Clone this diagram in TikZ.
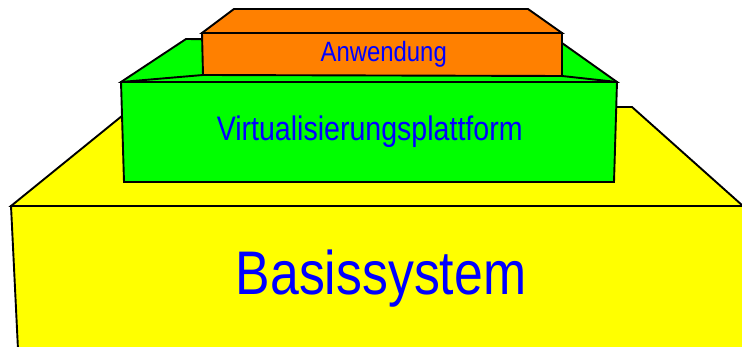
\documentclass[tikz,border=0pt]{standalone}
\usepackage{fontspec}
\setmainfont{Liberation Sans}
\usepackage{graphicx}
\definecolor{baseyellow}{RGB}{255,255,0}
\definecolor{virtgreen}{RGB}{0,255,0}
\definecolor{apporange}{RGB}{255,128,0}
\definecolor{textblue}{RGB}{0,0,255}
\begin{document}
\begin{tikzpicture}[x=1pt,y=-1pt,
  edge/.style={draw=black,line width=1.9pt,line join=miter},
  lbl/.style={text=textblue,inner sep=0pt,anchor=base}]
\useasboundingbox (0,0) rectangle (742,347);
\clip (0,0) rectangle (742,347);

% base system: top face and front face
\filldraw[edge,fill=baseyellow] (11,206) -- (133,107) -- (632,107) -- (743,206) -- cycle;
\filldraw[edge,fill=baseyellow] (11,206) -- (760,206) -- (765,370) -- (19,370) -- cycle;

% virtualisation platform: top face, creases and front face
\filldraw[edge,fill=virtgreen] (121,82) -- (186,39) -- (562,43) -- (617,82) -- cycle;
\draw[edge] (121,82) -- (203,75);
\draw[edge] (562,76) -- (617,82);
\filldraw[edge,fill=virtgreen] (121,82) -- (617,82) -- (614,182) -- (124,182) -- cycle;

% application: top face and front face
\filldraw[edge,fill=apporange] (202,33) -- (234,9) -- (528,9) -- (562,33) -- cycle;
\filldraw[edge,fill=apporange] (202,33) -- (562,33) -- (562,76) -- (203,75) -- cycle;

% captions
\node[lbl,font=\fontsize{61.6}{70}\selectfont] (basis) at (381,295)
  {\scalebox{0.84}[1]{Basissystem}};
\node[lbl,font=\fontsize{34}{40}\selectfont] (virt) at (369.7,141)
  {\scalebox{0.84}[1]{Virtualisierungsplattform}};
\node[lbl,font=\fontsize{27.9}{32}\selectfont] (app) at (383.7,61.7)
  {\scalebox{0.857}[1]{Anwendung}};
\end{tikzpicture}
\end{document}
